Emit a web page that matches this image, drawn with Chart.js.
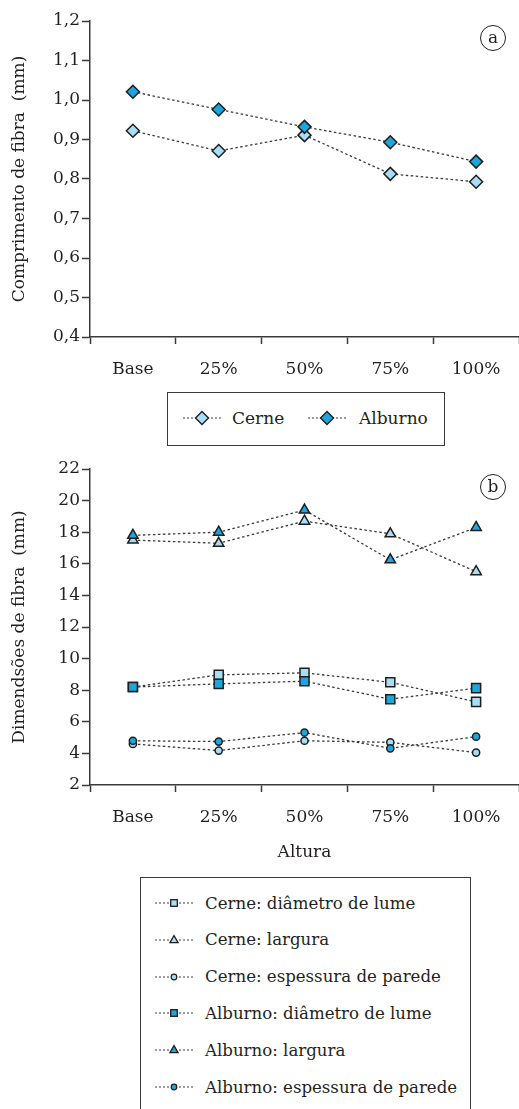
<!DOCTYPE html>
<html>
<head>
<meta charset="utf-8">
<script src="https://cdn.jsdelivr.net/npm/chart.js@4"></script>
<style>
  html, body { margin: 0; padding: 0; background: #fff; }
  body { width: 519px; height: 1109px; position: relative; overflow: hidden; font-family: "DejaVu Serif", "Liberation Serif", serif; color: #231f20; }
  .wrap { position: absolute; left: 0; }
  .badge { position: absolute; width: 26px; height: 26px; border: 1.3px solid #231f20; border-radius: 50%; box-sizing: border-box; text-align: center; font-size: 17px; line-height: 22px; }
  .legend { position: absolute; border: 1.5px solid #3a3a3a; box-sizing: border-box; background: #fff; z-index: 5; }
  .item { position: absolute; display: flex; align-items: center; font-size: 17px; white-space: nowrap; }
  #leg2 .item { font-size: 16.6px; }
  .item svg { display: block; }
</style>
</head>
<body>
<div class="wrap" style="top:0;width:519px;height:390px"><canvas id="c1"></canvas></div>
<div class="wrap" style="top:440px;width:519px;height:440px"><canvas id="c2"></canvas></div>
<div class="badge" style="left:480px;top:25px">a</div>
<div class="badge" style="left:480px;top:474px">b</div>
<div class="legend" id="leg1" style="left:167px;top:392px;width:278px;height:54px"></div>
<div class="legend" id="leg2" style="left:140px;top:877px;width:331px;height:260px"></div>
<script>
// ---- data ----
const categories = ['Base', '25%', '50%', '75%', '100%'];
const cerneComprimento   = [0.922, 0.871, 0.911, 0.813, 0.793];
const alburnoComprimento = [1.021, 0.976, 0.932, 0.893, 0.844];
const cerneDiametro    = [8.2, 8.97, 9.1, 8.5, 7.26];
const cerneLargura     = [17.5, 17.3, 18.7, 17.9, 15.5];
const cerneEspessura   = [4.6, 4.18, 4.8, 4.7, 4.05];
const alburnoDiametro  = [8.2, 8.4, 8.57, 7.43, 8.13];
const alburnoLargura   = [17.8, 18.0, 19.4, 16.25, 18.3];
const alburnoEspessura = [4.8, 4.75, 5.32, 4.32, 5.06];
const yTicks1 = { min: 0.4, max: 1.2, step: 0.1 };
const yTicks2 = { min: 2, max: 22, step: 2 };
const yTitle1 = 'Comprimento de fibra  (mm)';
const yTitle2 = 'Dimendsões de fibra  (mm)';
const xTitle2 = 'Altura';

// ---- styles ----
const LIGHT = '#a9ddf5';
const DARK = '#1ca6dc';
const EDGE = '#1e1e1e';
const LINE = '#3a3a3a';
const TXT = '#231f20';
const FONT = '"DejaVu Serif", "Liberation Serif", serif';
const FS = 17;

function ds(label, data, fill, style, radius, order) {
  return {
    label, data, order,
    borderColor: LINE, borderWidth: 1.3, borderDash: [2.5, 2.5],
    pointStyle: style, pointRadius: radius, pointHoverRadius: radius,
    pointBackgroundColor: fill, pointBorderColor: EDGE, pointBorderWidth: 1.5,
    fill: false, tension: 0
  };
}

function makeOptions(yt, yTitle, xTitle, chartBottomFromTop, canvasH, topPad) {
  return {
    responsive: true, maintainAspectRatio: false, animation: false,
    events: [],
    layout: { autoPadding: false, padding: { top: topPad, left: 0, right: 0, bottom: 0 } },
    plugins: { legend: { display: false }, tooltip: { enabled: false } },
    scales: {
      x: {
        type: 'category', offset: true,
        grid: { offset: true, drawOnChartArea: false, drawTicks: true, tickLength: 7, tickColor: '#3a3a3a', tickWidth: 1.5 },
        border: { display: true, color: '#3a3a3a', width: 1.5 },
        ticks: { color: TXT, font: { family: FONT, size: FS }, padding: 15, maxRotation: 0 },
        title: xTitle ? { display: true, text: xTitle, color: TXT, font: { family: FONT, size: FS }, padding: { top: 0, bottom: 17 } } : { display: false },
        afterFit: s => { s.height = canvasH - chartBottomFromTop; }
      },
      y: {
        min: yt.min, max: yt.max,
        grid: { drawOnChartArea: false, drawTicks: true, tickLength: 8, tickColor: '#3a3a3a', tickWidth: 1.5 },
        border: { display: true, color: '#3a3a3a', width: 1.5 },
        ticks: {
          stepSize: yt.step, color: TXT, font: { family: FONT, size: FS }, padding: 2,
          callback: v => (yt.step < 1 ? v.toFixed(1).replace('.', ',') : String(Math.round(v)))
        },
        title: { display: true, text: yTitle, color: TXT, font: { family: FONT, size: FS }, padding: { top: 9, bottom: 0 } },
        afterFit: s => { s.width = 90; }
      }
    }
  };
}

new Chart(document.getElementById('c1'), {
  type: 'line',
  data: {
    labels: categories,
    datasets: [
      ds('Alburno', alburnoComprimento, DARK, 'rectRot', 6.5, 0),
      ds('Cerne', cerneComprimento, LIGHT, 'rectRot', 6.5, 1)
    ]
  },
  options: makeOptions(yTicks1, yTitle1, null, 337, 390, 21)
});

new Chart(document.getElementById('c2'), {
  type: 'line',
  data: {
    labels: categories,
    datasets: [
      ds('Alburno: diâmetro de lume', alburnoDiametro, DARK, 'rect', 6.4, 0),
      ds('Alburno: largura', alburnoLargura, DARK, 'triangle', 6, 1),
      ds('Alburno: espessura de parede', alburnoEspessura, DARK, 'circle', 3.6, 2),
      ds('Cerne: diâmetro de lume', cerneDiametro, LIGHT, 'rect', 6.4, 3),
      ds('Cerne: largura', cerneLargura, LIGHT, 'triangle', 6, 4),
      ds('Cerne: espessura de parede', cerneEspessura, LIGHT, 'circle', 3.6, 5)
    ]
  },
  options: makeOptions(yTicks2, yTitle2, xTitle2, 345, 440, 29)
});

// ---- HTML legends ----
function markerSVG(style, fill, size) {
  const w = 40, h = 16, cx = 19, cy = 8;
  let shape = '';
  if (style === 'rectRot') shape = `<polygon points="${cx-size},${cy} ${cx},${cy-size} ${cx+size},${cy} ${cx},${cy+size}" fill="${fill}" stroke="${EDGE}" stroke-width="1.4"/>`;
  if (style === 'rect') shape = `<rect x="${cx-size}" y="${cy-size}" width="${2*size}" height="${2*size}" fill="${fill}" stroke="${EDGE}" stroke-width="1.3"/>`;
  if (style === 'triangle') shape = `<polygon points="${cx},${cy-size} ${cx+size*0.9},${cy+size*0.6} ${cx-size*0.9},${cy+size*0.6}" fill="${fill}" stroke="${EDGE}" stroke-width="1.3"/>`;
  if (style === 'circle') shape = `<circle cx="${cx}" cy="${cy}" r="${size}" fill="${fill}" stroke="${EDGE}" stroke-width="1.2"/>`;
  return `<svg width="${w}" height="${h}"><line x1="0" y1="${cy}" x2="${w}" y2="${cy}" stroke="${LINE}" stroke-width="1.2" stroke-dasharray="2,2"/>${shape}</svg>`;
}
function addItem(box, left, top, style, fill, size, text, gap) {
  const d = document.createElement('div');
  d.className = 'item';
  d.style.left = left + 'px'; d.style.top = top + 'px'; d.style.height = '24px';
  d.innerHTML = markerSVG(style, fill, size) + `<span style="margin-left:${gap}px">${text}</span>`;
  box.appendChild(d);
}
const leg1 = document.getElementById('leg1');
addItem(leg1, 15, 13, 'rectRot', LIGHT, 6.5, 'Cerne', 9);
addItem(leg1, 140, 13, 'rectRot', DARK, 6.5, 'Alburno', 11);

const leg2 = document.getElementById('leg2');
const leg2Items = [
  ['rect', LIGHT, 3.3, 'Cerne: diâmetro de lume'],
  ['triangle', LIGHT, 4.5, 'Cerne: largura'],
  ['circle', LIGHT, 2.8, 'Cerne: espessura de parede'],
  ['rect', DARK, 3.3, 'Alburno: diâmetro de lume'],
  ['triangle', DARK, 4.5, 'Alburno: largura'],
  ['circle', DARK, 2.8, 'Alburno: espessura de parede']
];
leg2Items.forEach((it, i) => addItem(leg2, 14, 13 + i * 36.8, it[0], it[1], it[2], it[3], 10));
</script>
</body>
</html>
